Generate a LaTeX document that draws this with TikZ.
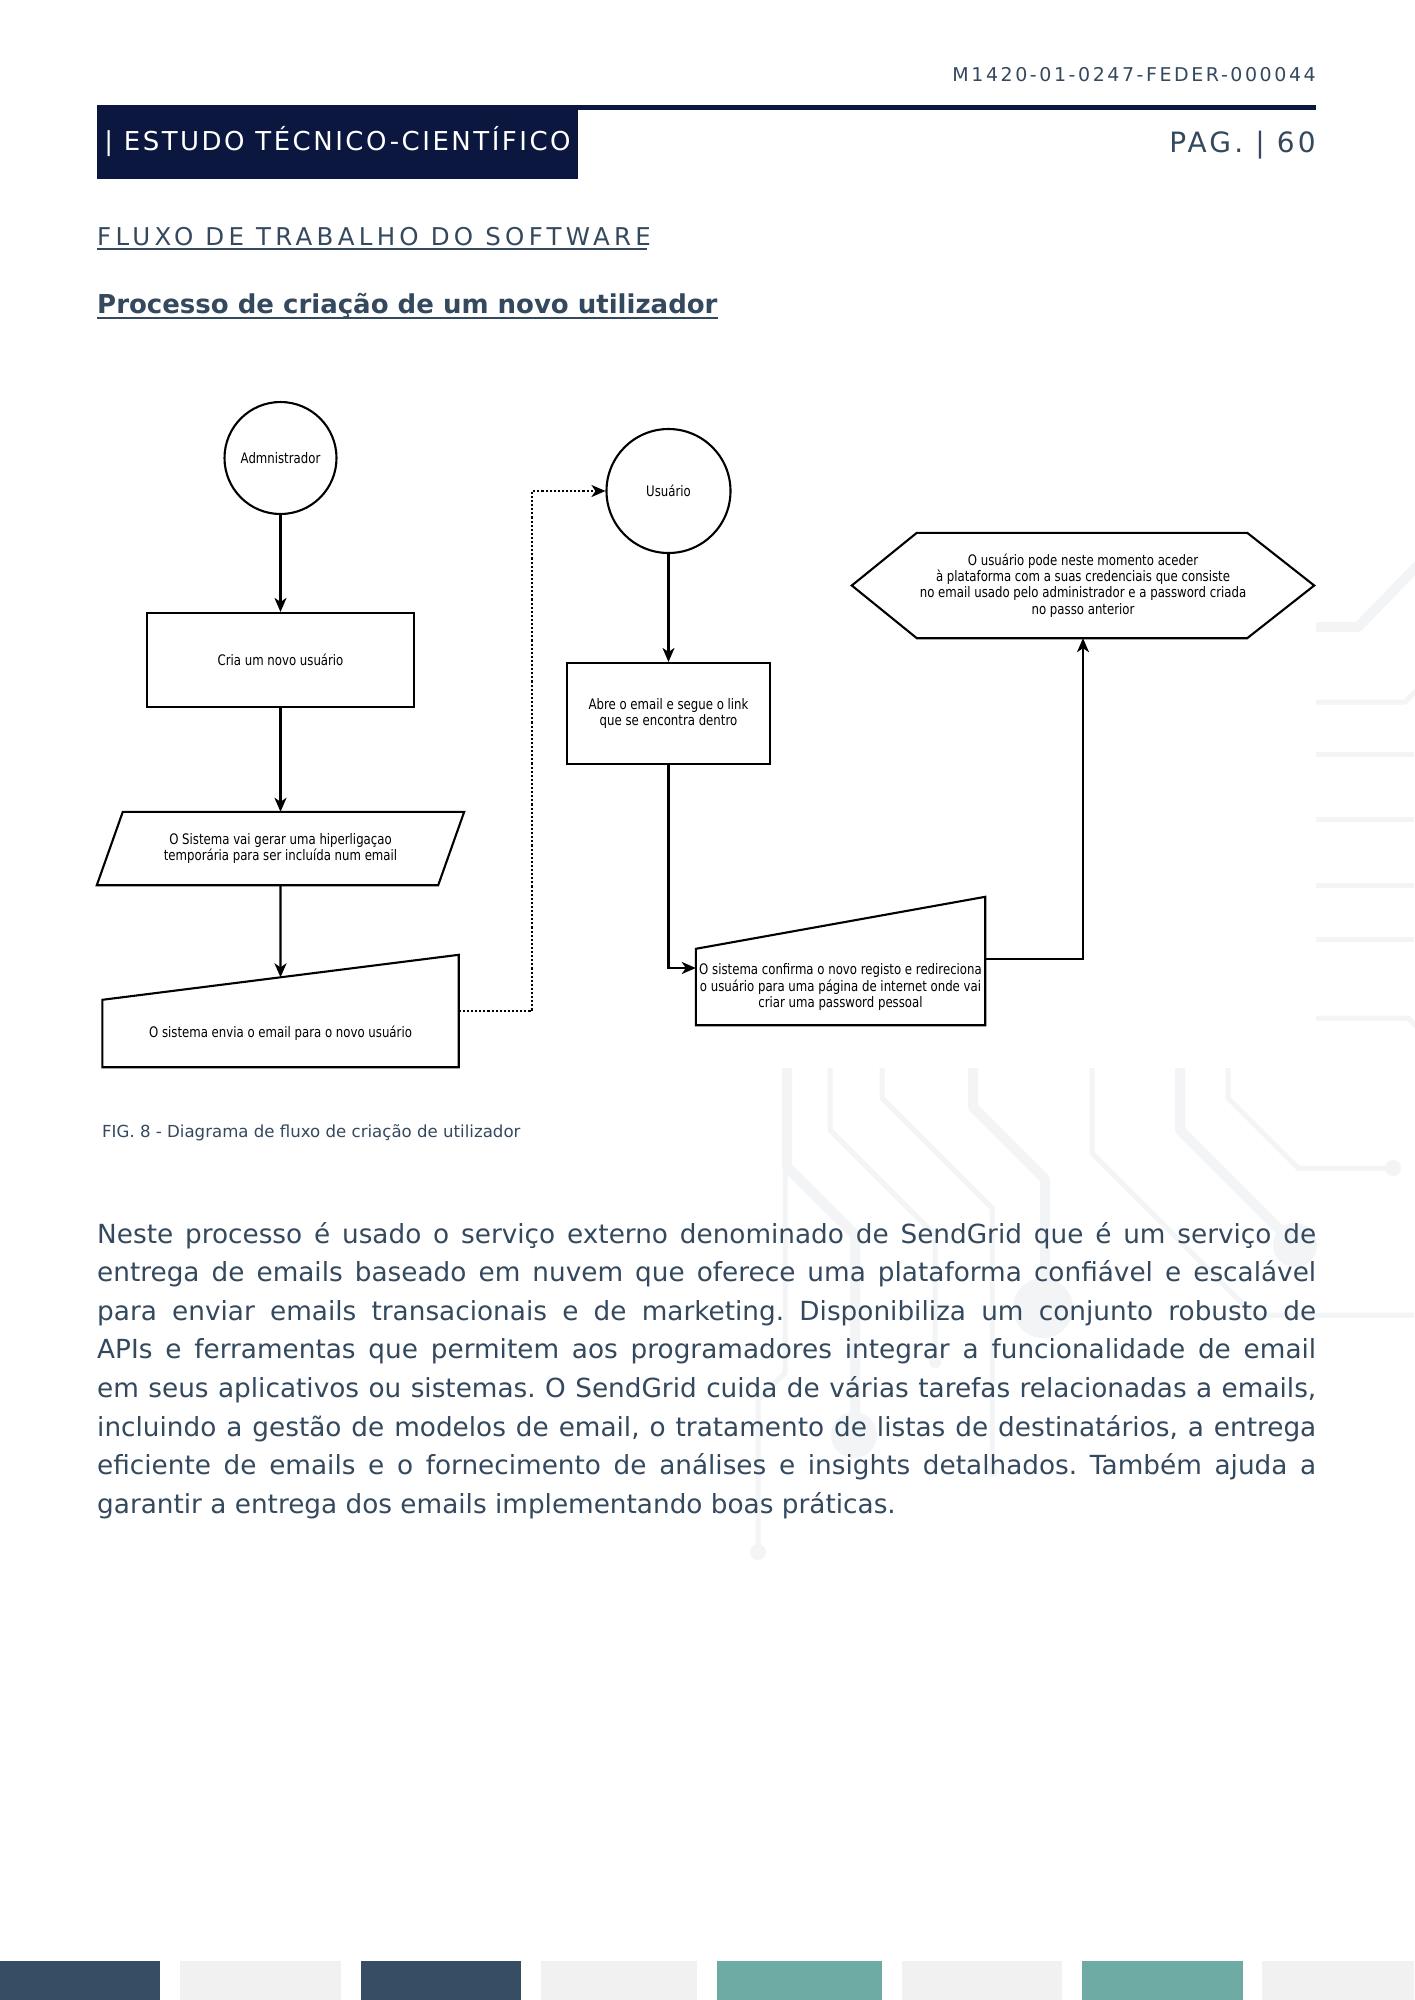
\documentclass[tikz,border=0pt]{standalone}
\usepackage{fontspec}
\setmainfont{DejaVu Sans}
\newfontfamily\dgfont[FakeStretch=0.81]{DejaVu Sans}
\usetikzlibrary{arrows.meta,calc}
\definecolor{navy}{HTML}{0B173F}
\definecolor{slate}{HTML}{34495E}
\definecolor{circgray}{HTML}{F3F4F6}
\definecolor{bardark}{HTML}{364E63}
\definecolor{barlight}{HTML}{F1F1F1}
\definecolor{barteal}{HTML}{6FABA5}
\tikzset{
  shp/.style={draw=black, line width=2.1pt},
  dgtext/.style={font=\dgfont\fontsize{14.5}{16.3}\selectfont, align=center, text=black},
  boxnode/.style={shp, rectangle, inner sep=0pt, dgtext},
  circnode/.style={shp, circle, inner sep=0pt, dgtext},
  ghost/.style={rectangle, inner sep=0pt, dgtext},
  conn/.style={line width=2.1pt, -{Stealth[length=14pt,width=12pt,inset=4pt]}},
  dotconn/.style={conn, dotted},
  trackthick/.style={draw=circgray, line width=10pt, line join=round},
  trackthin/.style={draw=circgray, line width=5pt, line join=round},
  bodyline/.style={anchor=base west, inner sep=0pt, text=slate, font=\fontsize{26.3}{30}\selectfont},
}
\newcommand{\bl}[1]{\frenchspacing\makebox[1219pt][s]{#1}}
\begin{document}
\begin{tikzpicture}[x=1pt,y=-1pt]
\useasboundingbox (0,0) rectangle (1414,2000);
\fill[white] (0,0) rectangle (1414,2000);

% background circuit tracks
\draw[trackthick] (1316,627) -- (1358,627) -- (1424,559);
\draw[trackthin] (1316,702) -- (1405,702) -- (1416,691);
\foreach \yy in {754,819,885,939} \draw[trackthin] (1316,\yy) -- (1414,\yy);
\draw[trackthin] (1316,1018) -- (1408,1018) -- (1416,1026);

\draw[trackthick] (787,1068) -- (787,1167) -- (855,1235) -- (855,1420);
\fill[circgray] (854,1435) circle (23);
\draw[trackthin] (785,1167) -- (785,1373) -- (758,1400) -- (758,1550);
\fill[circgray] (758,1552) circle (8);
\draw[trackthin] (830,1068) -- (830,1130) -- (935,1235) -- (935,1360);
\fill[circgray] (935,1362) circle (6);
\draw[trackthin] (882,1068) -- (882,1098) -- (992,1208) -- (992,1468);
\fill[circgray] (992,1470) circle (7);
\draw[trackthick] (973,1068) -- (973,1107) -- (1045,1179) -- (1045,1300);
\fill[circgray] (1043,1308) circle (30);
\draw[trackthin] (1092,1068) -- (1092,1153) -- (1254,1315) -- (1414,1315);
\draw[trackthick] (1180,1068) -- (1180,1130) -- (1285,1235);
\fill[circgray] (1295,1245) circle (22);
\draw[trackthin] (1228,1068) -- (1228,1098) -- (1298,1168) -- (1390,1168);
\fill[circgray] (1393,1168) circle (8);

% header
\node[anchor=base east, inner sep=0pt, text=slate, font=\fontsize{19}{22}\selectfont\addfontfeature{LetterSpace=13.5}] (code) at (1316,81) {M1420-01-0247-FEDER-000044};
\fill[navy] (578,105) rectangle (1316,110);
\node[rectangle, fill=navy, minimum width=481pt, minimum height=74pt, inner sep=0pt, text=white, font=\fontsize{26}{30}\selectfont\addfontfeature{LetterSpace=9.6}] (hdrbox) at (337.5,142) {| ESTUDO TÉCNICO-CIENTÍFICO};
\node[anchor=base east, inner sep=0pt, text=slate, font=\fontsize{28}{32}\selectfont\addfontfeature{LetterSpace=11.5}] (pag) at (1316,152) {PAG. | 60};
\node[anchor=base west, inner sep=0pt, text=slate, font=\fontsize{24.5}{28}\selectfont\addfontfeature{LetterSpace=17.5}] (fluxo) at (97,245) {FLUXO DE TRABALHO DO SOFTWARE};
\draw[slate, line width=1.5pt] ([yshift=-4pt]fluxo.base west) -- ([yshift=-4pt,xshift=-4pt]fluxo.base east);
\node[anchor=base west, inner sep=0pt, text=slate, font=\bfseries\fontsize{26}{30}\selectfont] (titulo) at (97,313) {Processo de criação de um novo utilizador};
\draw[slate, line width=2.5pt] ([yshift=-5pt]titulo.base west) -- ([yshift=-5pt]titulo.base east);

% diagram nodes
\node[circnode, minimum size=112pt] (admin) at (280.5,458) {Admnistrador};
\node[boxnode, minimum width=267pt, minimum height=94pt] (cria) at (280.5,660) {Cria um novo usuário};
\node[ghost, minimum width=315pt, minimum height=73pt] (para) at (280.5,848.5) {O Sistema vai gerar uma hiperligaçao\\temporária para ser incluída num email};
\draw[shp] (para.north west) -- ([xshift=26pt]para.north east) -- (para.south east) -- ([xshift=-26pt]para.south west) -- cycle;
\node[ghost, minimum width=356pt, minimum height=67pt] (sendbox) at (280.5,1033.5) {O sistema envia o email para o novo usuário};
\coordinate (sendtop) at ([yshift=45pt]sendbox.north east);
\draw[shp] (sendbox.south west) -- (sendbox.north west) -- (sendtop) -- (sendbox.south east) -- cycle;

\node[circnode, minimum size=124pt] (usuario) at (668.5,491) {Usuário};
\node[boxnode, minimum width=203pt, minimum height=101pt] (abre) at (668.5,713.5) {Abre o email e segue o link\\que se encontra dentro};
\node[ghost, minimum width=289pt, minimum height=76pt] (conf) at (840.5,987) {O sistema confirma o novo registo e redireciona\\o usuário para uma página de internet onde vai\\criar uma password pessoal};
\coordinate (conftop) at ([yshift=52pt]conf.north east);
\draw[shp] (conf.south west) -- (conf.north west) -- (conftop) -- (conf.south east) -- cycle;
\node[ghost, minimum width=462pt, minimum height=105pt] (hex) at (1083,585.5) {O usuário pode neste momento aceder\\à plataforma com a suas credenciais que consiste\\no email usado pelo administrador e a password criada\\no passo anterior};
\draw[shp] (hex.west) -- ([xshift=65pt]hex.north west) -- ([xshift=-67pt]hex.north east) -- (hex.east) -- ([xshift=-67pt]hex.south east) -- ([xshift=65pt]hex.south west) -- cycle;

% connectors
\draw[conn] (admin.south) -- (cria.north);
\draw[conn] (cria.south) -- (para.north);
\coordinate (sendhit) at ($(sendbox.north west)!0.5!(sendtop)$);
\draw[conn] (para.south) -- (sendhit);
\coordinate (dotstart) at ([yshift=22.5pt]sendbox.east);
\coordinate (dotbend) at (532,491);
\draw[dotconn] (dotstart) -| (dotbend) -- (usuario.west);
\draw[conn] (usuario.south) -- (abre.north);
\draw[conn] (abre.south) |- ([yshift=19pt]conf.west);
\draw[conn] ([yshift=28pt]conf.east) -| (hex.south);

% caption
\node[anchor=base west, inner sep=0pt, text=slate, font=\fontsize{16.6}{20}\selectfont] (caption) at (102,1137) {FIG. 8 - Diagrama de fluxo de criação de utilizador};

% body text
\node[bodyline] (body1) at (97,1243) {\bl{Neste processo é usado o serviço externo denominado de SendGrid que é um serviço de}};
\node[bodyline] (body2) at (97,1281.6) {\bl{entrega de emails baseado em nuvem que oferece uma plataforma confiável e escalável}};
\node[bodyline] (body3) at (97,1320.2) {\bl{para enviar emails transacionais e de marketing. Disponibiliza um conjunto robusto de}};
\node[bodyline] (body4) at (97,1358.8) {\bl{APIs e ferramentas que permitem aos programadores integrar a funcionalidade de email}};
\node[bodyline] (body5) at (97,1397.4) {\bl{em seus aplicativos ou sistemas. O SendGrid cuida de várias tarefas relacionadas a emails,}};
\node[bodyline] (body6) at (97,1436) {\bl{incluindo a gestão de modelos de email, o tratamento de listas de destinatários, a entrega}};
\node[bodyline] (body7) at (97,1474.6) {\bl{eficiente de emails e o fornecimento de análises e insights detalhados. Também ajuda a}};
\node[bodyline] (body8) at (97,1513.2) {\frenchspacing garantir a entrega dos emails implementando boas práticas.};

% footer bars
\fill[bardark] (0,1961) rectangle (160,2000);
\fill[barlight] (180,1961) rectangle (341,2000);
\fill[bardark] (361,1961) rectangle (521,2000);
\fill[barlight] (541,1961) rectangle (697,2000);
\fill[barteal] (717,1961) rectangle (882,2000);
\fill[barlight] (902,1961) rectangle (1062,2000);
\fill[barteal] (1082,1961) rectangle (1243,2000);
\fill[barlight] (1262,1961) rectangle (1414,2000);
\end{tikzpicture}
\end{document}
